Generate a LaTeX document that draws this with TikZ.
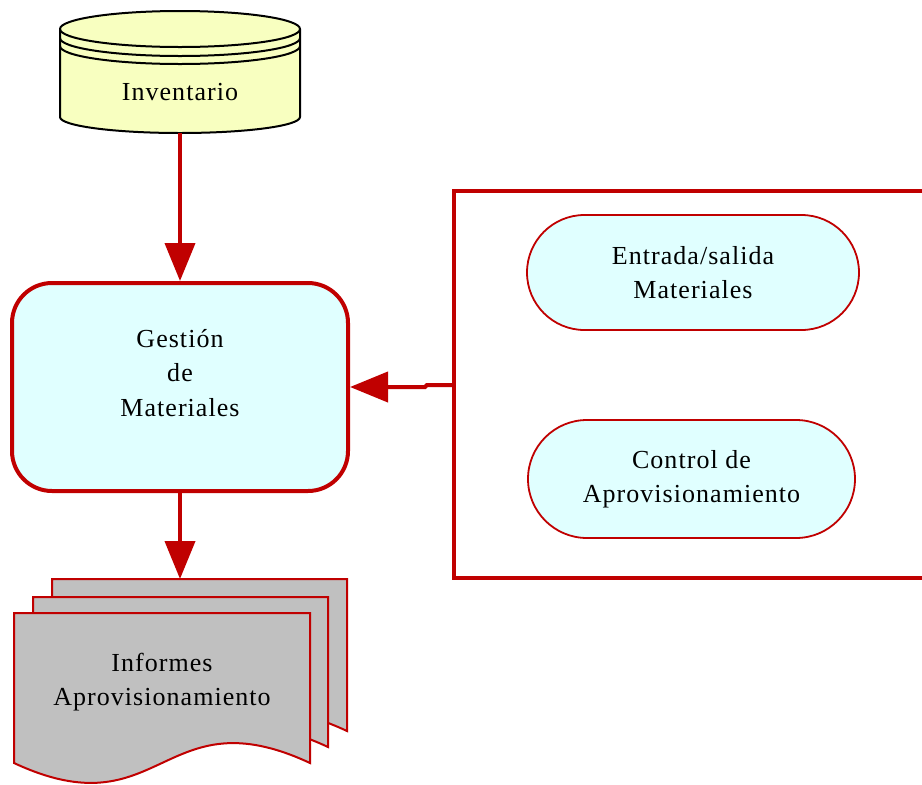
\documentclass[tikz,border=0pt]{standalone}
\usepackage{fontspec}
\setmainfont{Liberation Serif}[LetterSpace=4]
\usetikzlibrary{arrows.meta,shapes.misc}

\definecolor{dred}{HTML}{C00000}
\definecolor{cyanfill}{HTML}{E0FFFF}
\definecolor{dbfill}{HTML}{F8FFC0}
\definecolor{docfill}{HTML}{C0C0C0}

\tikzset{
  txt/.style={font=\fontsize{26}{34.5}\selectfont, align=center, text=black},
  flow/.style={draw=dred, line width=4pt, -{Triangle[width=30pt,length=38pt]}},
  pill/.style={txt, rounded rectangle, draw=dred, line width=1.8pt, fill=cyanfill, inner sep=0pt},
  docpg/.style={draw=dred, line width=2pt, fill=docfill, line join=miter},
  dbline/.style={draw=black, line width=2pt},
  anchorbox/.style={inner sep=0pt, outer sep=0pt, draw=none},
}

\begin{document}
\begin{tikzpicture}[x=1pt,y=-1pt]
\useasboundingbox (0,0) rectangle (922,785);

% database cylinder
\path[fill=dbfill, dbline] (60,29) -- (60,117)
  arc[start angle=180, end angle=360, x radius=120pt, y radius=16pt]
  -- (300,29)
  arc[start angle=0, end angle=180, x radius=120pt, y radius=18pt] -- cycle;
\draw[dbline] (60,29) arc[start angle=180, end angle=360, x radius=120pt, y radius=18pt];
\draw[dbline] (60,38) arc[start angle=180, end angle=360, x radius=120pt, y radius=18pt];
\draw[dbline] (60,46) arc[start angle=180, end angle=360, x radius=120pt, y radius=18pt];
\node[anchorbox, minimum width=240pt, minimum height=122pt] (inv) at (180,72) {};
\node[txt] (invtext) at (180,92) {Inventario};

% central process
\node[draw=dred, line width=4pt, fill=cyanfill, rounded corners=40pt,
      minimum width=336pt, minimum height=208pt] (gest) at (180,387) {};
\node[txt] (gesttext) at (180,373) {Gestión\\de\\Materiales};

% stacked report pages
\draw[docpg] (52,579) -- (347,579) -- (347,731)
  .. controls (199.5,662) and (199.5,800) .. (52,731) -- cycle;
\draw[docpg] (33,597) -- (328,597) -- (328,747)
  .. controls (180.5,678) and (180.5,816) .. (33,747) -- cycle;
\draw[docpg] (14,613) -- (310,613) -- (310,763)
  .. controls (162,694) and (162,832) .. (14,763) -- cycle;
\node[anchorbox, minimum width=295pt, minimum height=152pt] (docs) at (199.5,655) {};
\node[txt] (docstext) at (162,682) {Informes\\Aprovisionamiento};

% grouped sub-processes
\draw[dred, line width=4pt, line join=miter] (930,191) -- (454,191) -- (454,578) -- (930,578);
\coordinate (grpW) at (452,385);
\node[pill, minimum width=332pt, minimum height=115pt] (es) at (693,272.5)
  {Entrada/salida\\Materiales};
\node[pill, minimum width=327pt, minimum height=118pt] (ctrl) at (691.5,479)
  {Control de\\Aprovisionamiento};

% connectors
\draw[flow] (inv.south) -- (gest.north);
\draw[flow] (gest.south) -- (gest.south |- docs.north);
\draw[flow] (grpW) -- ++(-25,0) -- ++(-2,2) -- (gest.east);
\end{tikzpicture}
\end{document}
